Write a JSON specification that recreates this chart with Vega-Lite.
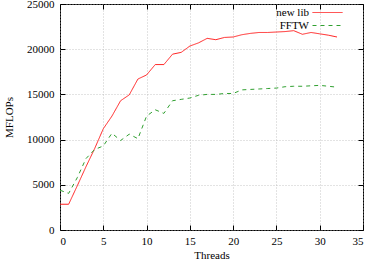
{
  "$schema": "https://vega.github.io/schema/vega-lite/v6.json",
  "width": 303,
  "height": 226,
  "autosize": {"type": "none"},
  "padding": {"left": 60, "top": 4, "right": 7, "bottom": 31},
  "config": {
    "font": "Liberation Serif",
    "view": {"stroke": "black", "strokeWidth": 1},
    "axis": {
      "labelFont": "Liberation Serif",
      "labelFontSize": 11,
      "labelColor": "black",
      "titleFont": "Liberation Serif",
      "titleFontSize": 11,
      "titleFontWeight": "normal",
      "titleColor": "black",
      "domain": false,
      "tickColor": "black",
      "tickSize": -5,
      "tickWidth": 1,
      "gridColor": "#b0b0b0",
      "gridDash": [1, 2],
      "gridWidth": 0.7,
      "format": "d"
    },
    "legend": {
      "labelFont": "Liberation Serif",
      "labelFontSize": 11,
      "labelColor": "black"
    }
  },
  "data": {
    "values": [
      {"t": 0, "v": 2850, "s": "new lib"},
      {"t": 1, "v": 2850, "s": "new lib"},
      {"t": 2, "v": 4900, "s": "new lib"},
      {"t": 3, "v": 7000, "s": "new lib"},
      {"t": 4, "v": 9000, "s": "new lib"},
      {"t": 5, "v": 11200, "s": "new lib"},
      {"t": 6, "v": 12600, "s": "new lib"},
      {"t": 7, "v": 14300, "s": "new lib"},
      {"t": 8, "v": 14950, "s": "new lib"},
      {"t": 9, "v": 16700, "s": "new lib"},
      {"t": 10, "v": 17150, "s": "new lib"},
      {"t": 11, "v": 18300, "s": "new lib"},
      {"t": 12, "v": 18300, "s": "new lib"},
      {"t": 13, "v": 19450, "s": "new lib"},
      {"t": 14, "v": 19650, "s": "new lib"},
      {"t": 15, "v": 20350, "s": "new lib"},
      {"t": 16, "v": 20700, "s": "new lib"},
      {"t": 17, "v": 21200, "s": "new lib"},
      {"t": 18, "v": 21050, "s": "new lib"},
      {"t": 19, "v": 21300, "s": "new lib"},
      {"t": 20, "v": 21350, "s": "new lib"},
      {"t": 21, "v": 21600, "s": "new lib"},
      {"t": 22, "v": 21750, "s": "new lib"},
      {"t": 23, "v": 21850, "s": "new lib"},
      {"t": 24, "v": 21850, "s": "new lib"},
      {"t": 25, "v": 21900, "s": "new lib"},
      {"t": 26, "v": 21950, "s": "new lib"},
      {"t": 27, "v": 22050, "s": "new lib"},
      {"t": 28, "v": 21650, "s": "new lib"},
      {"t": 29, "v": 21850, "s": "new lib"},
      {"t": 30, "v": 21700, "s": "new lib"},
      {"t": 31, "v": 21550, "s": "new lib"},
      {"t": 32, "v": 21350, "s": "new lib"},
      {"t": 0, "v": 4400, "s": "FFTW"},
      {"t": 1, "v": 4050, "s": "FFTW"},
      {"t": 2, "v": 5800, "s": "FFTW"},
      {"t": 3, "v": 7900, "s": "FFTW"},
      {"t": 4, "v": 8900, "s": "FFTW"},
      {"t": 5, "v": 9300, "s": "FFTW"},
      {"t": 6, "v": 10700, "s": "FFTW"},
      {"t": 7, "v": 9900, "s": "FFTW"},
      {"t": 8, "v": 10600, "s": "FFTW"},
      {"t": 9, "v": 10100, "s": "FFTW"},
      {"t": 10, "v": 12600, "s": "FFTW"},
      {"t": 11, "v": 13300, "s": "FFTW"},
      {"t": 12, "v": 12900, "s": "FFTW"},
      {"t": 13, "v": 14300, "s": "FFTW"},
      {"t": 14, "v": 14450, "s": "FFTW"},
      {"t": 15, "v": 14600, "s": "FFTW"},
      {"t": 16, "v": 14900, "s": "FFTW"},
      {"t": 17, "v": 15000, "s": "FFTW"},
      {"t": 18, "v": 15000, "s": "FFTW"},
      {"t": 19, "v": 15100, "s": "FFTW"},
      {"t": 20, "v": 15100, "s": "FFTW"},
      {"t": 21, "v": 15500, "s": "FFTW"},
      {"t": 22, "v": 15550, "s": "FFTW"},
      {"t": 23, "v": 15600, "s": "FFTW"},
      {"t": 24, "v": 15650, "s": "FFTW"},
      {"t": 25, "v": 15700, "s": "FFTW"},
      {"t": 26, "v": 15850, "s": "FFTW"},
      {"t": 27, "v": 15900, "s": "FFTW"},
      {"t": 28, "v": 15900, "s": "FFTW"},
      {"t": 29, "v": 15950, "s": "FFTW"},
      {"t": 30, "v": 16000, "s": "FFTW"},
      {"t": 31, "v": 15900, "s": "FFTW"},
      {"t": 32, "v": 15800, "s": "FFTW"}
    ]
  },
  "layer": [
    {
      "mark": {"type": "line", "strokeWidth": 1},
      "encoding": {
        "x": {
          "field": "t", "type": "quantitative",
          "scale": {"domain": [0, 35], "nice": false, "zero": false},
          "axis": {"values": [0, 5, 10, 15, 20, 25, 30, 35], "title": "Threads", "grid": true, "labelPadding": 10, "titlePadding": 3, "labelFont": "Liberation Serif", "titleFont": "Liberation Serif", "titleFontWeight": "normal"}
        },
        "y": {
          "field": "v", "type": "quantitative",
          "scale": {"domain": [0, 25000], "nice": false},
          "axis": {"values": [0, 5000, 10000, 15000, 20000, 25000], "title": "MFLOPs", "grid": true, "labelPadding": 11, "titlePadding": 12, "labelFont": "Liberation Serif", "titleFont": "Liberation Serif", "titleFontWeight": "normal"}
        },
        "color": {
          "field": "s", "type": "nominal",
          "scale": {"domain": ["new lib", "FFTW"], "range": ["#ff2020", "#30a030"]},
          "legend": {
            "title": null, "orient": "none", "legendX": 262, "legendY": 3,
            "symbolType": "M-15,0H15", "symbolSize": 4, "symbolStrokeWidth": 1,
            "labelAlign": "right", "labelOffset": -24, "padding": 0, "rowPadding": 1,
            "labelFont": "Liberation Serif", "labelFontSize": 11
          }
        },
        "strokeDash": {
          "field": "s", "type": "nominal",
          "scale": {"domain": ["new lib", "FFTW"], "range": [[1, 0], [4, 4]]},
          "legend": {
            "title": null, "orient": "none", "legendX": 262, "legendY": 3,
            "symbolType": "M-15,0H15", "symbolSize": 4, "symbolStrokeWidth": 1,
            "labelAlign": "right", "labelOffset": -24, "padding": 0, "rowPadding": 1,
            "labelFont": "Liberation Serif", "labelFontSize": 11
          }
        }
      }
    },
    {
      "mark": {"type": "line", "opacity": 0},
      "encoding": {
        "x": {
          "field": "t", "type": "quantitative",
          "scale": {"domain": [0, 35], "nice": false, "zero": false},
          "axis": {"orient": "top", "values": [0, 5, 10, 15, 20, 25, 30, 35], "labels": false, "title": null, "grid": false}
        },
        "y": {
          "field": "v", "type": "quantitative",
          "scale": {"domain": [0, 25000], "nice": false},
          "axis": {"orient": "right", "values": [0, 5000, 10000, 15000, 20000, 25000], "labels": false, "title": null, "grid": false}
        },
        "detail": {"field": "s"}
      }
    }
  ],
  "resolve": {"axis": {"x": "independent", "y": "independent"}}
}
